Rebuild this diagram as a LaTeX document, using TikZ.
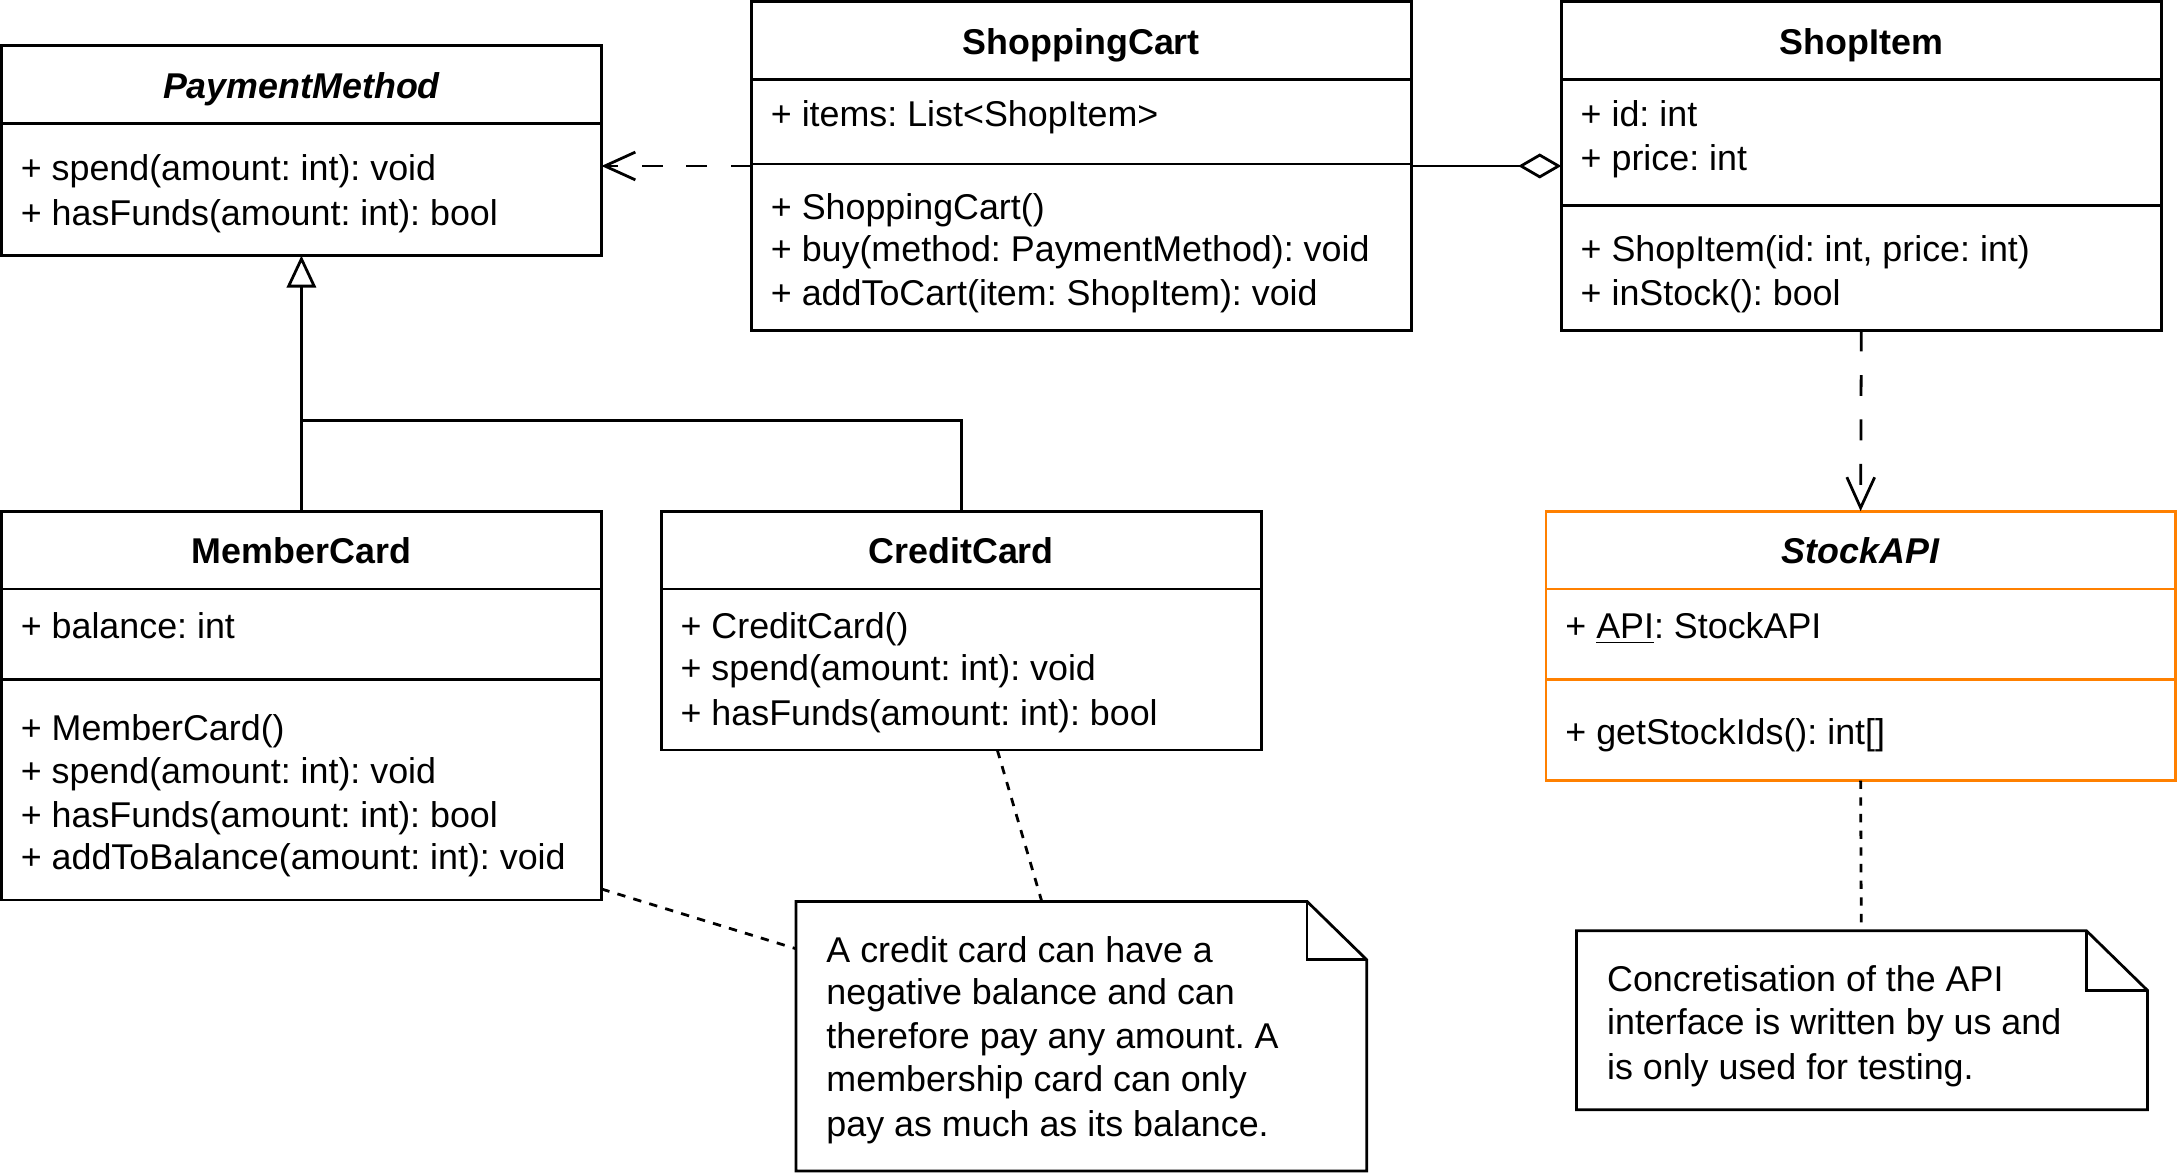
\documentclass[tikz,border=0pt]{standalone}
\usepackage{fontspec}
\setmainfont{Liberation Sans}
\usetikzlibrary{arrows.meta,calc}
\definecolor{uorange}{HTML}{FF8000}
\frenchspacing
\begin{document}
\begin{tikzpicture}[x=0.5pt,y=-0.5pt,line width=1pt,
  font=\fontsize{12.9pt}{15.5pt}\selectfont,
  classbox/.style={draw,rectangle,inner sep=0pt,outer sep=0pt,anchor=north west},
  txt/.style={anchor=base west,inner sep=0pt},
  hdr/.style={anchor=base,inner sep=0pt,font=\fontsize{12.9pt}{15.5pt}\selectfont\bfseries},
  ihdr/.style={anchor=base,inner sep=0pt,font=\fontsize{12.9pt}{15.5pt}\selectfont\bfseries\itshape},
  depline/.style={dash pattern=on 7.5pt off 8.5pt,-{Straight Barb[length=11pt,width=10pt]}},
  inherit/.style={-{Triangle[fill=white,length=11.5pt,width=10.5pt]}},
  aggline/.style={-{Diamond[fill=white,length=15.5pt,width=9pt]}},
  notelink/.style={dash pattern=on 3pt off 3pt},
  notebox/.style={draw,fill=white,line join=miter}]
\useasboundingbox (0,0) rectangle (1568,844);

% ---------- PaymentMethod ----------
\node[classbox,minimum width=216pt,minimum height=75.5pt] (pm) at (1,33) {};
\draw (1,89) -- (433,89);
\node[ihdr] (pmh) at (217,71) {PaymentMethod};
\node[txt] (pm1) at (14,130) {+ spend(amount: int): void};
\node[txt] (pm2) at (14,162) {+ hasFunds(amount: int): bool};

% ---------- ShoppingCart ----------
\node[classbox,minimum width=237.5pt,minimum height=118.5pt] (sc) at (541,1) {};
\draw (541,57) -- (1016,57);
\draw (541,118) -- (1016,118);
\node[hdr] (sch) at (778.5,39) {ShoppingCart};
\node[txt] (sc1) at (554,91) {+ items: List<ShopItem>};
\node[txt] (sc2) at (554,158) {+ ShoppingCart()};
\node[txt] (sc3) at (554,188) {+ buy(method: PaymentMethod): void};
\node[txt] (sc4) at (554,220) {+ addToCart(item: ShopItem): void};

% ---------- ShopItem ----------
\node[classbox,minimum width=216pt,minimum height=118.5pt] (si) at (1124,1) {};
\draw (1124,57) -- (1556,57);
\draw (1124,148) -- (1556,148);
\node[hdr] (sih) at (1340,39) {ShopItem};
\node[txt] (si1) at (1137,91) {+ id: int};
\node[txt] (si2) at (1137,123) {+ price: int};
\node[txt] (si3) at (1137,188) {+ ShopItem(id: int, price: int)};
\node[txt] (si4) at (1137,220) {+ inStock(): bool};

% ---------- MemberCard ----------
\node[classbox,minimum width=216pt,minimum height=140pt] (mc) at (1,368) {};
\draw (1,424) -- (433,424);
\draw (1,489) -- (433,489);
\node[hdr] (mch) at (217,406) {MemberCard};
\node[txt] (mc1) at (14,460) {+ balance: int};
\node[txt] (mc2) at (14,533) {+ MemberCard()};
\node[txt] (mc3) at (14,564) {+ spend(amount: int): void};
\node[txt] (mc4) at (14,596) {+ hasFunds(amount: int): bool};
\node[txt] (mc5) at (14,626) {+ addToBalance(amount: int): void};

% ---------- CreditCard ----------
\node[classbox,minimum width=216pt,minimum height=86pt] (cc) at (476,368) {};
\draw (476,424) -- (908,424);
\node[hdr] (cch) at (692,406) {CreditCard};
\node[txt] (cc1) at (489,460) {+ CreditCard()};
\node[txt] (cc2) at (489,490) {+ spend(amount: int): void};
\node[txt] (cc3) at (489,522) {+ hasFunds(amount: int): bool};

% ---------- StockAPI ----------
\node[classbox,draw=uorange,minimum width=226.5pt,minimum height=97pt] (sa) at (1113,368) {};
\draw[uorange] (1113,424) -- (1566,424);
\draw[uorange] (1113,489) -- (1566,489);
\node[ihdr] (sah) at (1339.5,406) {StockAPI};
\node[txt] (sa1) at (1126,460) {+ \underline{API}: StockAPI};
\node[txt] (sa2) at (1126,536) {+ getStockIds(): int[]};

% ---------- Notes ----------
\draw[notebox] (573,649) -- (941,649) -- (984,691) -- (984,843) -- (573,843) -- cycle;
\draw (941,649) -- (941,691) -- (984,691);
\node[txt] (n1a) at (594,693) {A credit card can have a};
\node[txt] (n1b) at (594,723) {negative balance and can};
\node[txt] (n1c) at (594,755) {therefore pay any amount. A};
\node[txt] (n1d) at (594,786) {membership card can only};
\node[txt] (n1e) at (594,818) {pay as much as its balance.};

\draw[notebox] (1135,670) -- (1502,670) -- (1546,713) -- (1546,799) -- (1135,799) -- cycle;
\draw (1502,670) -- (1502,713) -- (1546,713);
\node[txt] (n2a) at (1156,714) {Concretisation of the API};
\node[txt] (n2b) at (1156,745) {interface is written by us and};
\node[txt] (n2c) at (1156,777) {is only used for testing.};

% ---------- Connectors ----------
\draw[depline] (sc.west) -- (pm.east |- sc.west);
\draw[aggline] (sc.east) -- (si.west);
\coordinate (join) at (217,303);
\draw[inherit] (mc.north) -- (pm.south);
\draw (cc.north) |- (join);
\draw[depline] (si.south) -- (sa.north);

\coordinate (mcn) at (433,640);
\coordinate (n1w) at (573,683);
\coordinate (ccn) at (718,540);
\coordinate (n1t) at (750,649);
\coordinate (n2t) at (1340,670);
\draw[notelink] (mcn) -- (n1w);
\draw[notelink] (ccn) -- (n1t);
\draw[notelink] (sa.south) -- (n2t);
\end{tikzpicture}
\end{document}
